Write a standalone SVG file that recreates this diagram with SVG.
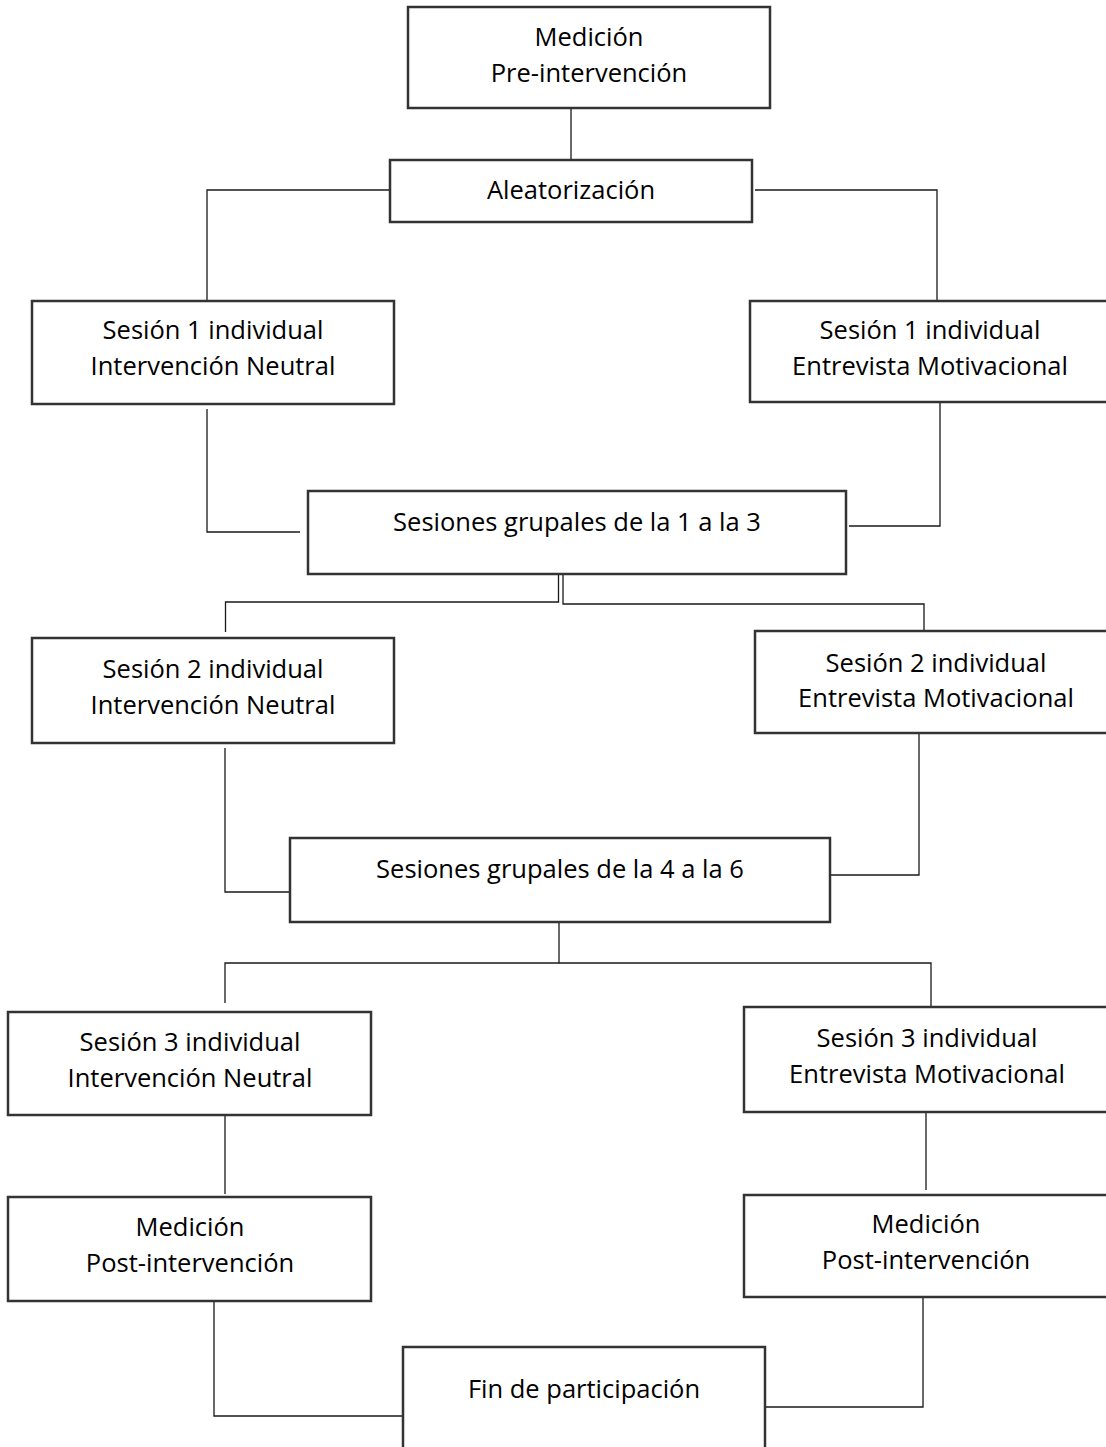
<svg xmlns="http://www.w3.org/2000/svg" width="1106" height="1447" viewBox="0 0 1106 1447">
<style>
.box{fill:#fff;stroke:#333;stroke-width:2.5}
.t{font-family:"Open Sans","Liberation Sans",sans-serif;font-size:25.5px;fill:#000;text-anchor:middle}
.c{fill:none;stroke:#1a1a1a;stroke-width:1.3}
</style>
<rect width="1106" height="1447" fill="#fff"/>
<g id="connectors">
<path class="c" d="M571,108 V160"/>
<path class="c" d="M389,190 H207 V301"/>
<path class="c" d="M755,190 H937 V301"/>
<path class="c" d="M207,409 V532 H300"/>
<path class="c" d="M849,526 H940 V402"/>
<path class="c" d="M558.5,574 V602 H225.5 V632"/>
<path class="c" d="M563,574 V604 H924 V631"/>
<path class="c" d="M225,748 V892 H290"/>
<path class="c" d="M830,875 H919 V733"/>
<path class="c" d="M559,922 V963 H225 V1003"/>
<path class="c" d="M559,963 H931 V1007"/>
<path class="c" d="M225,1115 V1194"/>
<path class="c" d="M926,1112 V1190"/>
<path class="c" d="M214,1301 V1416 H403"/>
<path class="c" d="M765,1407 H923 V1297"/>
</g>
<g id="pre"><rect class="box" x="408" y="7" width="362" height="101"/><text class="t" x="589" y="46">Medición</text><text class="t" x="589" y="82">Pre-intervención</text></g>
<g id="alea"><rect class="box" x="390" y="160" width="362" height="62"/><text class="t" x="571" y="199">Aleatorización</text></g>
<g id="s1n"><rect class="box" x="32" y="301" width="362" height="103"/><text class="t" x="213" y="339">Sesión 1 individual</text><text class="t" x="213" y="375">Intervención Neutral</text></g>
<g id="s1m"><rect class="box" x="750" y="301" width="362" height="101"/><text class="t" x="930" y="339">Sesión 1 individual</text><text class="t" x="930" y="375">Entrevista Motivacional</text></g>
<g id="g13"><rect class="box" x="308" y="491" width="538" height="83"/><text class="t" x="577" y="531">Sesiones grupales de la 1 a la 3</text></g>
<g id="s2n"><rect class="box" x="32" y="638" width="362" height="105"/><text class="t" x="213" y="678">Sesión 2 individual</text><text class="t" x="213" y="714">Intervención Neutral</text></g>
<g id="s2m"><rect class="box" x="755" y="631" width="357" height="102"/><text class="t" x="936" y="672">Sesión 2 individual</text><text class="t" x="936" y="707">Entrevista Motivacional</text></g>
<g id="g46"><rect class="box" x="290" y="838" width="540" height="84"/><text class="t" x="560" y="878">Sesiones grupales de la 4 a la 6</text></g>
<g id="s3n"><rect class="box" x="8" y="1012" width="363" height="103"/><text class="t" x="190" y="1051">Sesión 3 individual</text><text class="t" x="190" y="1087">Intervención Neutral</text></g>
<g id="s3m"><rect class="box" x="744" y="1007" width="368" height="105"/><text class="t" x="927" y="1047">Sesión 3 individual</text><text class="t" x="927" y="1083">Entrevista Motivacional</text></g>
<g id="postn"><rect class="box" x="8" y="1197" width="363" height="104"/><text class="t" x="190" y="1236">Medición</text><text class="t" x="190" y="1272">Post-intervención</text></g>
<g id="postm"><rect class="box" x="744" y="1195" width="368" height="102"/><text class="t" x="926" y="1233">Medición</text><text class="t" x="926" y="1269">Post-intervención</text></g>
<g id="fin"><rect class="box" x="403" y="1347" width="362" height="110"/><text class="t" x="584" y="1398">Fin de participación</text></g>
</svg>
